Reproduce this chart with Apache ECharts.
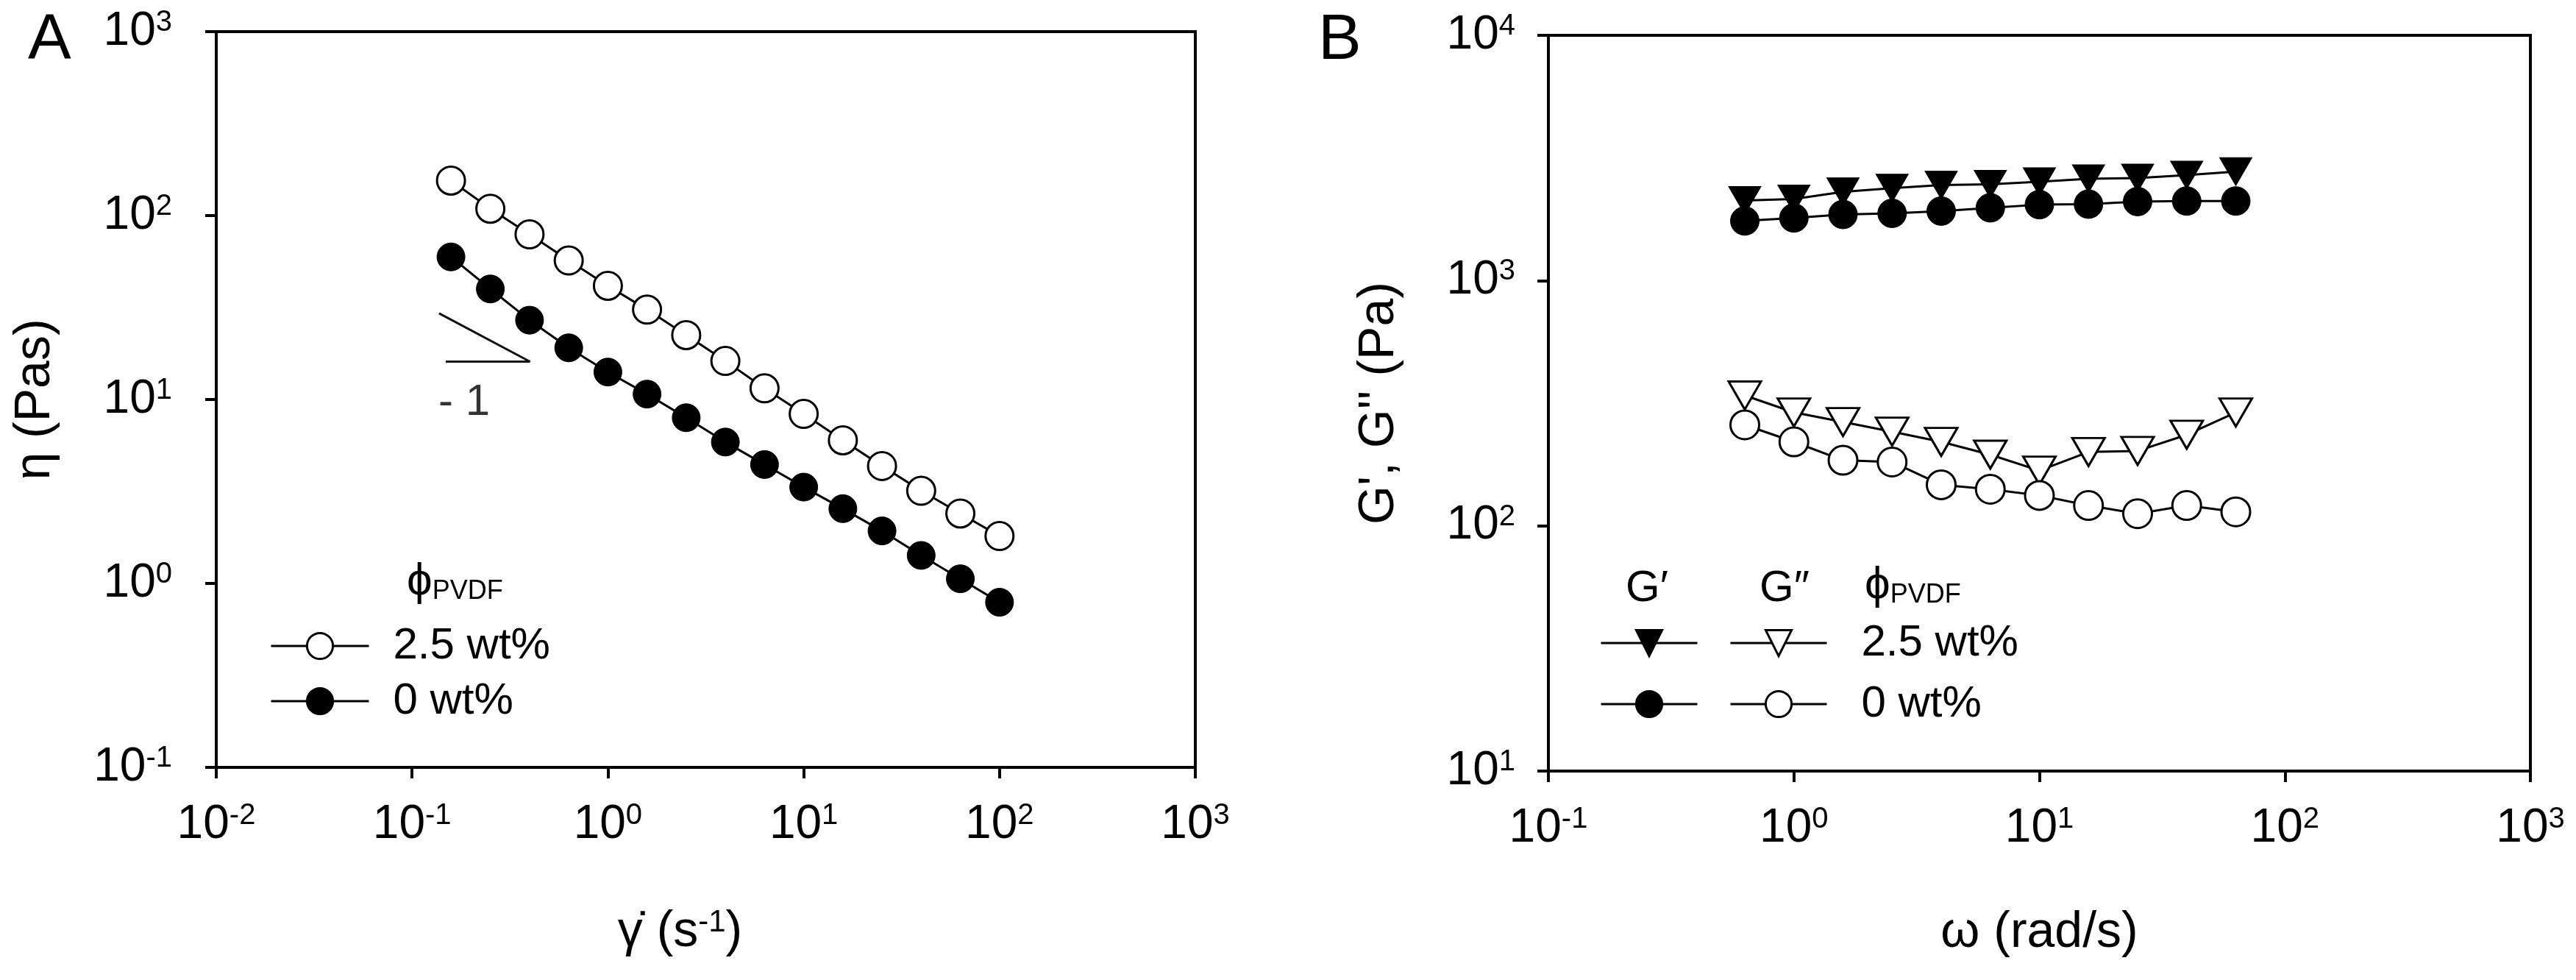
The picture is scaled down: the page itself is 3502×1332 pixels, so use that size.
<!DOCTYPE html>
<html><head><meta charset="utf-8">
<script src="https://cdn.jsdelivr.net/npm/echarts@6/dist/echarts.min.js"></script>
<style>html,body{margin:0;padding:0;background:#fff}#c{width:3502px;height:1332px}</style>
</head><body><div id="c"></div>
<script>
// ---- Panel A data: viscosity vs shear rate ----
const shearRate = [0.158, 0.251, 0.398, 0.631, 1, 1.585, 2.512, 3.981, 6.31, 10, 15.85, 25.12, 39.81, 63.1, 100];
const etaPVDF25 = [155, 109, 79, 57, 41.5, 30.8, 22.4, 16.2, 11.5, 8.35, 6.0, 4.35, 3.19, 2.40, 1.81];
const etaPVDF0  = [59.6, 39.9, 27.0, 19.1, 14.1, 10.7, 7.96, 5.87, 4.43, 3.34, 2.55, 1.93, 1.42, 1.06, 0.79];
// slope triangle annotation (data coords)
const slopeX = [0.1374, 0.400, 0.1486];
const slopeY = [29.4, 16.07, 16.07];
const slopeLabelPos = [0.1845, 9.64];
const slopeLabel = '- 1';

// ---- Panel B data: moduli vs angular frequency ----
const omega = [0.631, 1, 1.585, 2.512, 3.981, 6.31, 10, 15.85, 25.12, 39.81, 63.1];
const gPrime25  = [2120, 2150, 2300, 2380, 2450, 2470, 2530, 2600, 2620, 2690, 2780];
const gPrime0   = [1750, 1800, 1860, 1880, 1920, 1980, 2040, 2050, 2100, 2110, 2110];
const gDouble25 = [340, 290, 265, 242, 220, 195, 168, 200, 202, 235, 290];
const gDouble0  = [258, 220, 185, 182, 147, 141, 133, 121, 112, 121, 114];

const seriesLabels = ['2.5 wt%', '0 wt%'];
const xTickExpA = [-2, -1, 0, 1, 2, 3];
const yTickExpA = [-1, 0, 1, 2, 3];
const xTickExpB = [-1, 0, 1, 2, 3];
const yTickExpB = [1, 2, 3, 4];

const FF = '"Liberation Sans", Arial, sans-serif';
const zip = (xs, ys) => xs.map((x, i) => [x, ys[i]]);

const tickRich = {
  b: {fontSize: 64, lineHeight: 64, fontFamily: FF, color: '#000'},
  s: {fontSize: 40, lineHeight: 40, fontFamily: FF, color: '#000', verticalAlign: 'top'}
};
const expFmt = v => '{b|10}{s|' + Math.round(Math.log10(v)) + '}';

function logAxis(o) {
  return Object.assign({
    type: 'log', logBase: 10,
    axisLine: {show: true, onZero: false, lineStyle: {color: '#000', width: 4}},
    axisTick: {show: true, inside: false, length: 15, lineStyle: {color: '#000', width: 4}},
    minorTick: {show: false},
    splitLine: {show: false},
    nameLocation: 'middle',
    nameTextStyle: {fontSize: 68, fontFamily: FF, color: '#000'}
  }, o);
}

const nameA25 = 'A ' + seriesLabels[0], nameA0 = 'A ' + seriesLabels[1];
const nameGp25 = 'G′ ' + seriesLabels[0], nameGp0 = 'G′ ' + seriesLabels[1];
const nameGpp25 = 'G″ ' + seriesLabels[0], nameGpp0 = 'G″ ' + seriesLabels[1];

const openStyle = {color: '#fff', borderColor: '#000', borderWidth: 3};
const fillStyle = {color: '#000', borderColor: '#000', borderWidth: 1};
const lineSt = {color: '#000', width: 3};
const lblCommon = {rich: tickRich, fontSize: 64, fontFamily: FF, color: '#000', showMinLabel: true, showMaxLabel: true, hideOverlap: false, formatter: expFmt};
const legText = {fontSize: 60, lineHeight: 44, fontFamily: FF, color: '#000'};

const option = {
  animation: false,
  backgroundColor: '#fff',
  grid: [
    {left: 294, top: 43, width: 1331, height: 1000, show: true, borderColor: '#000', borderWidth: 4, containLabel: false, outerBoundsMode: 'none'},
    {left: 2105, top: 48, width: 1335, height: 1000, show: true, borderColor: '#000', borderWidth: 4, containLabel: false, outerBoundsMode: 'none'}
  ],
  xAxis: [
    logAxis({gridIndex: 0, min: Math.pow(10, xTickExpA[0]), max: Math.pow(10, xTickExpA[xTickExpA.length - 1]),
      name: '{t|γ̇ (s}{sup|-1}{t|)}', nameGap: 190,
      nameTextStyle: {fontSize: 68, fontFamily: FF, color: '#000', padding: [0, 70, 0, 0],
        rich: {t: {fontSize: 68, fontFamily: FF, color: '#000'},
               sup: {fontSize: 42, lineHeight: 42, fontFamily: FF, color: '#000', verticalAlign: 'top'}}},
      axisLabel: Object.assign({margin: 46}, lblCommon)}),
    logAxis({gridIndex: 1, min: Math.pow(10, xTickExpB[0]), max: Math.pow(10, xTickExpB[xTickExpB.length - 1]),
      name: 'ω (rad/s)', nameGap: 186,
      axisLabel: Object.assign({margin: 46}, lblCommon)})
  ],
  yAxis: [
    logAxis({gridIndex: 0, min: Math.pow(10, yTickExpA[0]), max: Math.pow(10, yTickExpA[yTickExpA.length - 1]),
      name: 'η (Pas)', nameGap: 212, nameRotate: 90,
      axisLabel: Object.assign({margin: 60}, lblCommon)}),
    logAxis({gridIndex: 1, min: Math.pow(10, yTickExpB[0]), max: Math.pow(10, yTickExpB[yTickExpB.length - 1]),
      name: "G', G'' (Pa)", nameGap: 196, nameRotate: 90,
      axisLabel: Object.assign({margin: 45}, lblCommon)})
  ],
  legend: [
    {id: 'legA', orient: 'vertical', left: 362, top: 843, itemWidth: 133, itemHeight: 44, itemGap: 15,
     data: [nameA25, nameA0], selectedMode: false,
     formatter: n => n === nameA25 ? seriesLabels[0] : seriesLabels[1],
     textStyle: Object.assign({padding: [0, 0, 0, 28]}, legText),
     itemStyle: {borderWidth: 3}, lineStyle: {width: 3}},
    {id: 'legB1', orient: 'vertical', left: 2170, top: 839, itemWidth: 131, itemHeight: 44, itemGap: 23,
     data: [nameGp25, nameGp0], selectedMode: false,
     formatter: () => ' ',
     textStyle: legText,
     itemStyle: {borderWidth: 3}, lineStyle: {width: 3}},
    {id: 'legB2', orient: 'vertical', left: 2346, top: 839, itemWidth: 131, itemHeight: 44, itemGap: 23,
     data: [nameGpp25, nameGpp0], selectedMode: false,
     formatter: n => n === nameGpp25 ? seriesLabels[0] : seriesLabels[1],
     textStyle: Object.assign({padding: [0, 0, 0, 42]}, legText),
     itemStyle: {borderWidth: 3}, lineStyle: {width: 3}}
  ],
  graphic: [
    {type: 'text', x: 38, y: 56, style: {text: 'A', font: '88px "Liberation Sans"', fill: '#000', verticalAlign: 'middle', textVerticalAlign: 'middle'}},
    {type: 'text', x: 1792, y: 56, style: {text: 'B', font: '88px "Liberation Sans"', fill: '#000', verticalAlign: 'middle', textVerticalAlign: 'middle'}},
    {type: 'text', x: 553, y: 791, style: {text: '{p|ϕ}{s|PVDF}', verticalAlign: 'middle', textVerticalAlign: 'middle',
      rich: {p: {fontSize: 62, lineHeight: 62, fontFamily: FF, fill: '#000', color: '#000'},
             s: {fontSize: 36, lineHeight: 36, fontFamily: FF, fill: '#000', color: '#000', verticalAlign: 'bottom'}}}},
    {type: 'text', x: 2239, y: 800, style: {text: 'G′', font: '60px "Liberation Sans"', fill: '#000', align: 'center', textAlign: 'center', verticalAlign: 'middle', textVerticalAlign: 'middle'}},
    {type: 'text', x: 2426, y: 800, style: {text: 'G″', font: '60px "Liberation Sans"', fill: '#000', align: 'center', textAlign: 'center', verticalAlign: 'middle', textVerticalAlign: 'middle'}},
    {type: 'text', x: 2535, y: 796, style: {text: '{p|ϕ}{s|PVDF}', verticalAlign: 'middle', textVerticalAlign: 'middle',
      rich: {p: {fontSize: 62, lineHeight: 62, fontFamily: FF, fill: '#000', color: '#000'},
             s: {fontSize: 36, lineHeight: 36, fontFamily: FF, fill: '#000', color: '#000', verticalAlign: 'bottom'}}}}
  ],
  series: [
    {type: 'line', name: nameA25, xAxisIndex: 0, yAxisIndex: 0, data: zip(shearRate, etaPVDF25),
     symbol: 'circle', symbolSize: 38, itemStyle: openStyle, lineStyle: lineSt, z: 3},
    {type: 'line', name: nameA0, xAxisIndex: 0, yAxisIndex: 0, data: zip(shearRate, etaPVDF0),
     symbol: 'circle', symbolSize: 38, itemStyle: fillStyle, lineStyle: lineSt, z: 3},
    {type: 'line', name: 'slope', xAxisIndex: 0, yAxisIndex: 0, data: zip(slopeX, slopeY),
     symbol: 'none', lineStyle: {color: '#111', width: 3}, silent: true, z: 2},
    {type: 'scatter', name: 'slopeLabel', xAxisIndex: 0, yAxisIndex: 0, data: [slopeLabelPos],
     symbolSize: 1, itemStyle: {color: '#fff'}, silent: true,
     label: {show: true, position: 'inside', formatter: slopeLabel, fontSize: 60, fontFamily: FF, color: '#000'}},
    {type: 'line', name: nameGp25, xAxisIndex: 1, yAxisIndex: 1, data: zip(omega, gPrime25),
     symbol: 'triangle', symbolRotate: 180, symbolSize: [44, 38], itemStyle: fillStyle, lineStyle: lineSt, z: 3},
    {type: 'line', name: nameGp0, xAxisIndex: 1, yAxisIndex: 1, data: zip(omega, gPrime0),
     symbol: 'circle', symbolSize: 39, itemStyle: fillStyle, lineStyle: lineSt, z: 3},
    {type: 'line', name: nameGpp25, xAxisIndex: 1, yAxisIndex: 1, data: zip(omega, gDouble25),
     symbol: 'triangle', symbolRotate: 180, symbolSize: [44, 38], itemStyle: openStyle, lineStyle: lineSt, z: 3},
    {type: 'line', name: nameGpp0, xAxisIndex: 1, yAxisIndex: 1, data: zip(omega, gDouble0),
     symbol: 'circle', symbolSize: 39, itemStyle: openStyle, lineStyle: lineSt, z: 3}
  ]
};
const chart = echarts.init(document.getElementById('c'), null, {renderer: 'canvas'});
chart.setOption(option);
</script>
</body></html>
